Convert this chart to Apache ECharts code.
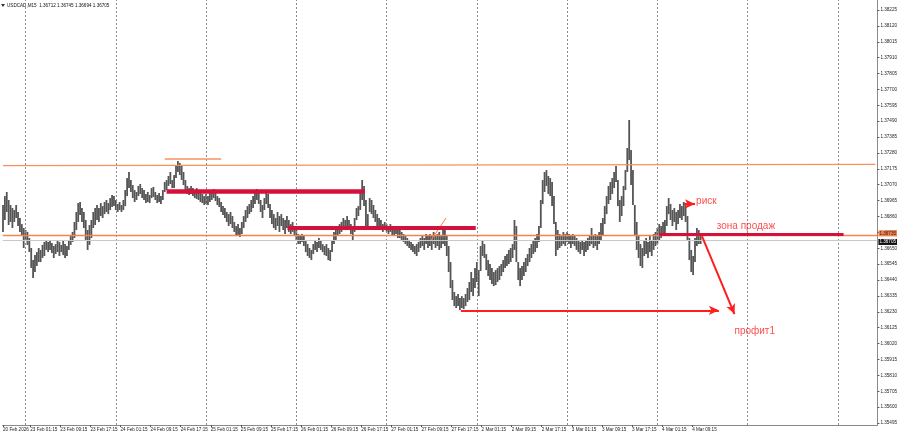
<!DOCTYPE html>
<html>
<head>
<meta charset="utf-8">
<script src="https://cdn.jsdelivr.net/npm/echarts@6/dist/echarts.min.js"></script>
<style>
html,body{margin:0;padding:0;background:#fff;}
#c{width:900px;height:437px;}
</style>
</head>
<body>
<div id="c"></div>
<script>
// ---- DATA (USDCAD M30-style bars, prices in points above 1.36000) ----
const PRICE_BASE = 1.36;
const POINT = 0.00001;
// bar highs, one row per trading day (20 Feb evening, 23 Feb ... 4 Mar)
const barHigh = [
  936,995,1022,969,936,916,903,936,890,850,810,784,
  771,758,718,652,572,605,625,652,639,672,692,705,692,705,685,665,678,705,692,672,705,678,665,705,738,758,824,890,949,956,916,890,837,771,804,837,890,916,936,916,949,929,956,969,949,982,1002,995,
  969,943,956,936,969,1035,1114,1154,1101,1068,1035,1022,1062,1075,1048,1035,1009,1022,1002,1048,1055,1022,1002,1015,995,1035,1088,1101,1128,1154,1101,1134,1194,1227,1214,1194,1154,1101,1062,1048,1062,1048,1035,1048,1022,1035,1009,995,
  1009,995,1015,1022,1042,1022,995,982,956,929,916,890,876,890,863,824,797,810,784,824,863,903,929,943,969,995,1022,1042,1022,969,936,982,1022,1009,943,903,876,850,890,863,876,850,837,863,837,810,824,797,
  771,744,731,744,731,705,678,652,639,678,705,692,718,705,678,665,678,652,639,705,758,784,797,810,824,850,837,863,837,810,784,850,916,929,1035,1101,1062,969,876,982,969,936,903,876,850,837,810,824,
  810,797,810,797,784,797,784,771,758,744,731,718,705,692,678,665,678,692,718,731,718,744,731,744,731,758,731,744,758,731,771,791,738,665,559,440,361,334,348,321,334,321,348,387,427,493,453,519,
  559,506,665,705,678,612,572,546,519,493,506,519,533,546,572,599,612,639,652,678,837,797,559,519,533,559,586,612,652,678,705,718,744,797,969,1101,1154,1167,1128,1114,1088,995,824,771,744,731,758,744,
  758,744,731,744,731,718,705,692,705,692,705,718,731,784,731,744,731,758,817,850,929,995,1062,1088,1114,1154,1194,1101,969,995,1062,1167,1313,1498,1300,1167,936,824,731,678,652,705,718,692,731,705,744,758,
  784,810,797,824,837,929,982,943,903,916,890,903,943,929,956,936,863,718,639,599,718,784,771,745
];
const barLow = [
  757,837,890,804,824,784,824,850,797,757,731,652,
  705,672,625,520,453,493,533,559,559,586,599,639,625,639,619,586,612,625,599,625,605,586,599,639,672,692,718,771,824,870,824,784,705,639,672,718,784,804,837,824,863,850,876,890,876,903,923,929,
  903,890,903,890,903,929,995,1048,1022,982,956,969,995,1008,982,969,949,956,949,982,989,969,949,956,943,969,1022,1035,1062,1075,1048,1048,1114,1154,1134,1101,1068,1035,1009,1002,1009,995,982,976,969,956,949,936,
  943,936,956,969,982,962,936,923,890,870,850,824,797,810,784,758,731,738,725,744,784,824,850,876,890,916,943,969,943,890,850,903,943,916,850,810,784,771,797,758,797,771,744,784,758,744,758,731,
  705,678,678,692,665,625,599,586,572,612,639,625,652,639,625,605,599,572,566,625,678,705,731,744,758,771,784,797,771,744,705,758,837,863,903,969,929,797,784,890,876,850,824,797,784,771,758,771,
  758,744,758,738,731,744,718,718,705,692,678,665,652,639,625,612,599,625,652,665,639,678,652,665,639,678,652,665,639,652,678,665,599,493,387,308,268,255,268,242,255,248,268,295,308,361,334,387,
  427,334,500,599,586,506,467,440,414,400,407,427,440,467,493,520,533,546,559,586,639,559,440,400,440,467,493,533,559,586,612,625,652,692,784,942,1022,1062,1009,995,929,810,599,639,652,665,678,665,
  692,678,652,678,665,639,625,612,639,599,625,639,665,678,652,665,639,678,705,731,810,876,943,969,1009,1048,1088,929,824,863,929,1035,1154,1233,1068,936,738,639,586,533,520,599,612,586,625,599,639,665,
  678,705,718,731,744,797,876,837,797,824,771,810,850,837,863,824,705,572,493,473,559,665,678,678
];
// day separators (bar index of each midnight) and bottom time-axis ticks
const daySeparators = [12, 60, 108, 156, 204, 252, 300, 348, 396, 444];
const timeTickPos = [0, 14.5, 30.5, 46.5, 62.5, 78.5, 94.5, 110.5, 126.5, 142.5, 158.5, 174.5, 190.5, 206.5, 222.5, 238.5, 254.5, 270.5, 286.5, 302.5, 318.5, 334.5, 350.5, 366.5];
const timeTickLabels = ['20 Feb 2026', '23 Feb 01:15', '23 Feb 09:15', '23 Feb 17:15', '24 Feb 01:15', '24 Feb 09:15', '24 Feb 17:15', '25 Feb 01:15', '25 Feb 09:15', '25 Feb 17:15', '26 Feb 01:15', '26 Feb 09:15', '26 Feb 17:15', '27 Feb 01:15', '27 Feb 09:15', '27 Feb 17:15', '2 Mar 01:15', '2 Mar 09:15', '2 Mar 17:15', '3 Mar 01:15', '3 Mar 09:15', '3 Mar 17:15', '4 Mar 01:15', '4 Mar 09:15'];
const priceTicks = [1.38225, 1.38120, 1.38015, 1.37910, 1.37805, 1.37700, 1.37595, 1.37490, 1.37385, 1.37280, 1.37175, 1.37070, 1.36965, 1.36860, 1.36755, 1.36650, 1.36545, 1.36440, 1.36335, 1.36230, 1.36125, 1.36020, 1.35915, 1.35810, 1.35705, 1.35600, 1.35495];
const titleText = 'USDCAD,M15  1.36712 1.36745 1.36694 1.36705';
const bidPrice = 1.36705;
const levelPrice = 1.36735;
// drawn objects: [startBar, startPrice, endBar, endPrice]
const trendUpper = [0, 1.37196, 464, 1.37205];
const shortLevel = [86, 1.37245, 116, 1.37245];
const resist1 = [87, 1.37025, 192.4, 1.37025];
const resist2 = [151.3, 1.36784, 251.4, 1.36784];
const sellZone = [349, 1.36742, 447, 1.36742];
const smallDiag = [227.7, 1.36705, 235.6, 1.36850];
const profitArrow = [243.5, 1.36240, 380.7, 1.36240];
const downArrow = [371.7, 1.36731, 389, 1.36215];
const riskArrow = [362.2, 1.36943, 368, 1.36943];
const notes = [[368.6, 1.36962, 'риск'], [379.6, 1.36797, 'зона продаж'], [389, 1.36102, 'профит1']];

// ---- build ----
const X_MIN = -0.13, X_MAX = 465;
const bars = barHigh.map((h, i) => [i, PRICE_BASE + h * POINT, PRICE_BASE + barLow[i] * POINT]);
const seg = (s, style, endSym) => [
  {coord: [s[0], s[1]], symbol: 'none', lineStyle: Object.assign({type: 'solid'}, style)},
  {coord: [s[2], s[3]], symbol: endSym || 'none', symbolSize: endSym ? [7, 10] : 0, lineStyle: Object.assign({type: 'solid'}, style)}
];
const fullLine = (price, style, label) => [
  {coord: [X_MIN, price], symbol: 'none', lineStyle: Object.assign({type: 'solid'}, style), label: label},
  {coord: [X_MAX, price], symbol: 'none', lineStyle: Object.assign({type: 'solid'}, style), label: label}
];
const orange = '#f7905f';
const crimson = '#d4103c';
const red = '#ff1e1e';
const axisFont = {fontSize: 4.6, color: '#222', fontFamily: 'Liberation Sans'};
const boxLabel = (txt, bg, fg, dy) => ({show: true, position: 'end', distance: 1, formatter: txt,
  backgroundColor: bg, color: fg, fontSize: 4.6, padding: [1, 1, 0, 1], fontFamily: 'Liberation Sans', offset: [0, dy]});

const chart = echarts.init(document.getElementById('c'), null, {renderer: 'canvas'});
chart.setOption({
  animation: false,
  backgroundColor: '#ffffff',
  grid: {left: 0, right: 18, top: 0, bottom: 12},
  xAxis: {
    type: 'value', min: X_MIN, max: X_MAX,
    axisLine: {show: true, onZero: false, lineStyle: {color: '#8a8a8a', width: 1}},
    splitLine: {show: false},
    axisTick: {show: true, customValues: timeTickPos, length: 2, lineStyle: {color: '#555'}},
    axisLabel: Object.assign({
      customValues: timeTickPos, align: 'left', margin: 2,
      formatter: v => timeTickLabels[timeTickPos.indexOf(v)] || ''
    }, axisFont)
  },
  yAxis: {
    type: 'value', position: 'right', min: 1.35482, max: 1.38291, scale: true,
    axisLine: {show: true, onZero: false, lineStyle: {color: '#8a8a8a', width: 1}},
    splitLine: {show: false},
    axisTick: {show: true, customValues: priceTicks, length: 2, lineStyle: {color: '#555'}},
    axisLabel: Object.assign({customValues: priceTicks, margin: 3, formatter: v => v.toFixed(5)}, axisFont)
  },
  graphic: [
    {type: 'polygon', shape: {points: [[1, 4], [5, 4], [3, 7]]}, style: {fill: '#333'}},
    {type: 'text', left: 7, top: 3, style: {text: titleText, fontSize: 4.6, fill: '#111', fontFamily: 'Liberation Sans'}}
  ],
  series: [
    {
      type: 'custom',
      name: 'bars',
      data: bars,
      encode: {x: 0, y: [1, 2]},
      renderItem: (params, api) => {
        const p1 = api.coord([api.value(0), api.value(1)]);
        const p2 = api.coord([api.value(0), api.value(2)]);
        return {type: 'line', shape: {x1: p1[0], y1: p1[1], x2: p2[0], y2: p2[1]},
          style: {stroke: '#555555', lineWidth: 1.8}};
      },
      z: 3
    },
    {
      type: 'scatter', name: 'separators', data: [], silent: true, z: 1,
      markLine: {
        silent: true, symbol: ['none', 'none'], label: {show: false},
        lineStyle: {color: '#8c8c8c', type: [2, 2], width: 1},
        data: daySeparators.map(v => [{coord: [v, 1.35482]}, {coord: [v, 1.38291]}])
      }
    },
    {
      type: 'scatter', name: 'levels', data: [], silent: true, z: 2,
      markLine: {
        silent: true, symbol: ['none', 'none'], label: {show: false},
        lineStyle: {color: orange, type: 'solid', width: 1.2},
        data: [
          fullLine(bidPrice, {color: '#c9c9c9', width: 1}, boxLabel(bidPrice.toFixed(5), '#111', '#fff', 2)),
          fullLine(levelPrice, {color: '#f5854f', width: 1.3}, boxLabel(levelPrice.toFixed(5), '#f7804a', '#222', -2)),
          seg(trendUpper, {color: orange, width: 1.3}),
          seg(shortLevel, {color: orange, width: 1.5}),
          seg(smallDiag, {color: '#ff7a2a', width: 1})
        ]
      }
    },
    {
      type: 'scatter', name: 'zones', data: notes, symbolSize: 0, silent: true, z: 5,
      label: {show: true, position: 'right', distance: 0, formatter: p => p.value[2],
        fontSize: 10, color: red, fontFamily: 'Liberation Sans'},
      markLine: {
        silent: true, symbol: ['none', 'none'], label: {show: false},
        lineStyle: {type: 'solid'},
        data: [
          seg(resist1, {color: crimson, width: 4.5}),
          seg(resist2, {color: crimson, width: 4}),
          seg(sellZone, {color: crimson, width: 3}),
          seg(profitArrow, {color: red, width: 2}, 'arrow'),
          seg(downArrow, {color: red, width: 2}, 'arrow'),
          seg(riskArrow, {color: red, width: 2}, 'arrow')
        ]
      }
    }
  ]
});
</script>
</body>
</html>
